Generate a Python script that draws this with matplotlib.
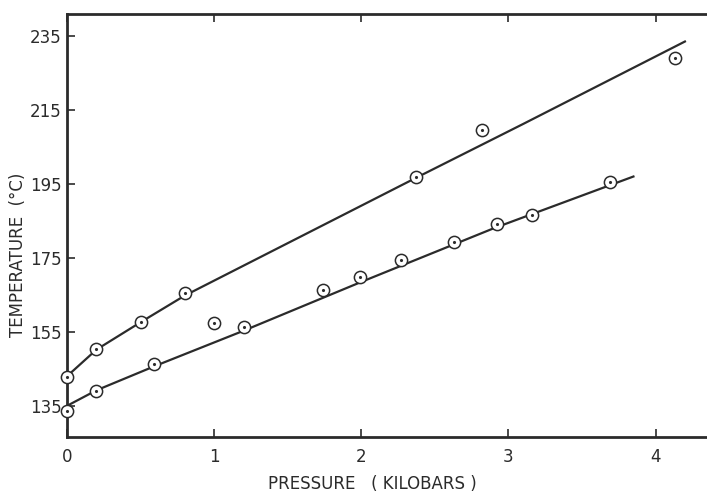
import matplotlib
matplotlib.use('Agg')
import matplotlib.pyplot as plt

# measured points (pressure in kilobars, temperature in deg C)
upper_p = [0.0, 0.2, 0.5, 0.8, 1.0, 2.37, 2.82, 4.13]
upper_t = [142.8, 150.4, 157.7, 165.5, 157.4, 196.9, 209.6, 229.0]
lower_p = [0.0, 0.2, 0.59, 1.2, 1.74, 1.99, 2.27, 2.63, 2.92, 3.16, 3.69]
lower_t = [133.6, 139.0, 146.4, 156.4, 166.4, 169.9, 174.5, 179.3, 184.2, 186.6, 195.5]

# hand-drawn curves through the points
upper_fit_p = [0.0, 0.2, 0.5, 0.8, 2.37, 3.1, 4.2]
upper_fit_t = [143.0, 150.2, 157.6, 164.8, 196.6, 211.2, 233.5]
lower_fit_p = [0.0, 0.2, 0.6, 1.2, 2.0, 2.9, 3.85]
lower_fit_t = [135.0, 139.2, 145.8, 155.3, 168.5, 183.0, 197.0]

ink = '#2b2b2b'
plt.rcParams['font.family'] = ['DejaVu Sans']

fig = plt.figure(figsize=(7.07, 4.92), dpi=100)
ax = fig.add_axes([0.0948, 0.112, 0.9052, 0.86])

ax.plot(upper_fit_p, upper_fit_t, color=ink, lw=1.6, zorder=2)
ax.plot(lower_fit_p, lower_fit_t, color=ink, lw=1.6, zorder=2)

for p, t in [(upper_p, upper_t), (lower_p, lower_t)]:
    ax.plot(p, t, 'o', ms=8.8, mfc='white', mec=ink, mew=1.1, ls='none', zorder=3, clip_on=False)
    ax.plot(p, t, '.', ms=2.5, color=ink, ls='none', zorder=4, clip_on=False)

ax.set_xlim(0, 4.35)
ax.set_ylim(126.6, 241)
ax.set_xticks([0, 1, 2, 3, 4])
ax.set_yticks([135, 155, 175, 195, 215, 235])

ax.tick_params(direction='in', length=6, width=1.2, colors=ink, labelsize=12,
               top=True, right=False, pad=4)
ax.tick_params(axis='x', pad=8)

for side in ['left', 'bottom', 'top']:
    ax.spines[side].set_linewidth(2.0)
    ax.spines[side].set_color(ink)
ax.spines['right'].set_visible(False)

ax.set_xlabel('PRESSURE   ( KILOBARS )', fontsize=12, color=ink)
ax.set_ylabel('TEMPERATURE  (°C)', fontsize=12, color=ink)
ax.xaxis.set_label_coords(0.477, -0.09)
ax.yaxis.set_label_coords(-0.062, 0.43)

fig.savefig('out.png', dpi=100)
